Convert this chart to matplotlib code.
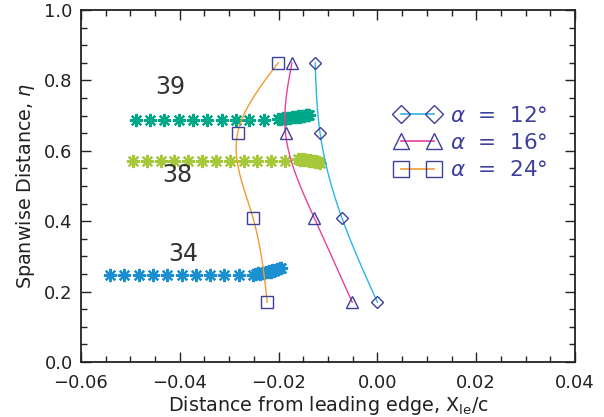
import numpy as np
import matplotlib
matplotlib.use("Agg")
import matplotlib.pyplot as plt
from matplotlib.ticker import MultipleLocator

# ---- data ----
eta = [0.85, 0.65, 0.41, 0.17]
x_a12 = [-0.0126, -0.0116, -0.0072, 0.0000]
x_a16 = [-0.0173, -0.0186, -0.0128, -0.0051]
x_a24 = [-0.0201, -0.0283, -0.0252, -0.0223]
alpha_labels = ["12°", "16°", "24°"]

v39_x = [-0.0489, -0.0460, -0.0431, -0.0402, -0.0373, -0.0344, -0.0315, -0.0287,
         -0.0259, -0.0230, -0.0201, -0.0196, -0.0192, -0.0188, -0.0184, -0.0180,
         -0.0176, -0.0172, -0.0169, -0.0166, -0.0163, -0.0160, -0.0157, -0.0154,
         -0.0151, -0.0148, -0.0145, -0.0142, -0.0140, -0.0138]
v39_y = [0.688, 0.688, 0.688, 0.688, 0.688, 0.688, 0.688, 0.688,
         0.688, 0.688, 0.689, 0.690, 0.692, 0.691, 0.693, 0.694,
         0.693, 0.695, 0.696, 0.695, 0.697, 0.698, 0.697, 0.699,
         0.700, 0.699, 0.701, 0.702, 0.701, 0.703]

v38_x = [-0.0495, -0.0467, -0.0439, -0.0411, -0.0383, -0.0355, -0.0327, -0.0299,
         -0.0271, -0.0243, -0.0215, -0.0187, -0.0160, -0.0157, -0.0154, -0.0151,
         -0.0148, -0.0145, -0.0142, -0.0139, -0.0136, -0.0133, -0.0130, -0.0127,
         -0.0124, -0.0121, -0.0119, -0.0117]
v38_y = [0.570, 0.570, 0.570, 0.570, 0.570, 0.570, 0.570, 0.570,
         0.570, 0.570, 0.570, 0.571, 0.577, 0.575, 0.578, 0.574,
         0.576, 0.573, 0.575, 0.571, 0.574, 0.570, 0.572, 0.568,
         0.570, 0.567, 0.569, 0.566]

v34_x = [-0.0541, -0.0512, -0.0483, -0.0454, -0.0425, -0.0396, -0.0367, -0.0338,
         -0.0310, -0.0281, -0.0252, -0.0246, -0.0242, -0.0238, -0.0234, -0.0230,
         -0.0226, -0.0222, -0.0219, -0.0216, -0.0213, -0.0210, -0.0207, -0.0204,
         -0.0201, -0.0198, -0.0196]
v34_y = [0.247, 0.247, 0.247, 0.247, 0.247, 0.247, 0.247, 0.247,
         0.247, 0.247, 0.248, 0.249, 0.252, 0.250, 0.254, 0.253,
         0.256, 0.255, 0.258, 0.257, 0.260, 0.259, 0.262, 0.263,
         0.265, 0.266, 0.268]

vortex_labels = ["39", "38", "34"]
vortex_label_pos = [(-0.0420, 0.78), (-0.0405, 0.53), (-0.0393, 0.307)]

# ---- styles ----
NAVY = "#3D3F9B"
line_colors = ["#2BB5E8", "#E8409A", "#F59A30"]
markers = [("D", 6.5), ("^", 9), ("s", 9)]
star_colors = ["#00A88A", "#A6C93C", "#1A90D0"]

plt.rcParams['font.family'] = ['DejaVu Sans']


def smooth(xs, ys, n=100):
    # natural cubic spline of x as a function of y (rendering only)
    y = np.asarray(ys)[::-1]
    x = np.asarray(xs)[::-1]
    k = len(y)
    h = np.diff(y)
    A = np.zeros((k, k))
    b = np.zeros(k)
    A[0, 0] = A[-1, -1] = 1
    for i in range(1, k - 1):
        A[i, i - 1] = h[i - 1]
        A[i, i] = 2 * (h[i - 1] + h[i])
        A[i, i + 1] = h[i]
        b[i] = 6 * ((x[i + 1] - x[i]) / h[i] - (x[i] - x[i - 1]) / h[i - 1])
    M = np.linalg.solve(A, b)
    yy = np.linspace(y[0], y[-1], n)
    xx = np.empty_like(yy)
    for j, t in enumerate(yy):
        i = min(np.searchsorted(y, t, side='right') - 1, k - 2)
        i = max(i, 0)
        d = h[i]
        a = (y[i + 1] - t) / d
        bb = (t - y[i]) / d
        xx[j] = (a * x[i] + bb * x[i + 1]
                 + ((a ** 3 - a) * M[i] + (bb ** 3 - bb) * M[i + 1]) * d * d / 6)
    return xx, yy


fig = plt.figure(figsize=(6.04, 4.17), dpi=100)
ax = fig.add_axes([0.1341, 0.1319, 0.8179, 0.8441])

ast = (8, 2, 0)
for xs, ys, c in zip([v39_x, v38_x, v34_x], [v39_y, v38_y, v34_y], star_colors):
    ax.plot(xs, ys, linestyle='none', marker=ast, markersize=9.5, color=c,
            markeredgewidth=1.6, zorder=2)

for (lbl, pos) in zip(vortex_labels, vortex_label_pos):
    ax.text(pos[0], pos[1], lbl, fontsize=17, color="#333333",
            ha='center', va='center')

for xs, col, (m, ms), lab in zip([x_a12, x_a16, x_a24], line_colors, markers,
                                 alpha_labels):
    sx, sy = smooth(xs, eta)
    ax.plot(sx, sy, color=col, lw=1.0, zorder=3)
    ax.plot(xs, eta, linestyle='none', marker=m, markersize=ms,
            markerfacecolor='none', markeredgecolor=NAVY, markeredgewidth=1.0,
            zorder=4)
    # legend proxy
    ax.plot([], [], color=col, lw=1.2, marker=m, markersize=ms,
            markerfacecolor='none', markeredgecolor=NAVY, markeredgewidth=1.0,
            label=r"$\alpha$  =  " + lab)

leg = ax.legend(loc='upper left', bbox_to_anchor=(0.618, 0.752), frameon=False,
                numpoints=2, handlelength=2.1, fontsize=15.5, labelcolor=NAVY,
                handletextpad=0.45, labelspacing=0.33, borderaxespad=0,
                markerscale=1.35)

ax.set_xlim(-0.06, 0.04)
ax.set_ylim(0.0, 1.0)
ax.xaxis.set_major_locator(MultipleLocator(0.02))
ax.xaxis.set_minor_locator(MultipleLocator(0.005))
ax.yaxis.set_major_locator(MultipleLocator(0.2))
ax.yaxis.set_minor_locator(MultipleLocator(0.05))
ax.xaxis.set_major_formatter(plt.FuncFormatter(
    lambda v, p: ("%.2f" % v).replace("-", "\u2212")))
ax.yaxis.set_major_formatter(plt.FuncFormatter(lambda v, p: "%.1f" % v))
ax.tick_params(which='both', direction='in', top=True, right=True,
               labelsize=13, colors='#222222', width=1.0)
ax.tick_params(which='major', length=7)
ax.tick_params(axis='y', which='major', pad=6)
ax.tick_params(axis='x', which='major', pad=9)
ax.tick_params(which='minor', length=4)
for s in ax.spines.values():
    s.set_linewidth(1.3)
    s.set_color('#222222')

ax.set_xlabel(r"Distance from leading edge, X$_{\mathrm{le}}$/c",
              fontsize=13.8, color='#222222', labelpad=1)
ax.set_ylabel(r"Spanwise Distance, $\eta$", fontsize=13.8, color='#222222',
              labelpad=5)

fig.savefig("out.png", dpi=100)
